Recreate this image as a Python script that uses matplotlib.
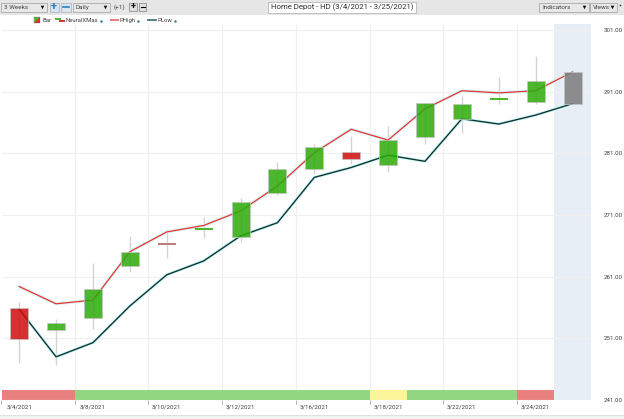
import matplotlib
matplotlib.use("Agg")
import matplotlib.pyplot as plt
import matplotlib.patheffects as pe
from matplotlib.patches import Rectangle

plt.rcParams['font.family'] = ['Roboto', 'DejaVu Sans']

# candles 3/4/2021 - 3/25/2021
dates = ['3/4/2021', '3/5/2021', '3/8/2021', '3/9/2021', '3/10/2021', '3/11/2021', '3/12/2021', '3/15/2021',
         '3/16/2021', '3/17/2021', '3/18/2021', '3/19/2021', '3/22/2021', '3/23/2021', '3/24/2021', '3/25/2021']
opens = [255.97, 252.3, 254.25, 262.73, 266.5, 268.55, 267.4, 274.5, 278.5, 281.2, 279.1, 283.65, 286.5, 289.65, 289.3, 289.05]
closes = [250.9, 253.5, 258.95, 264.95, 266.2, 268.85, 273.1, 278.5, 282.0, 280.0, 283.1, 289.1, 288.95, 290.0, 292.8, 294.2]
highs = [256.9, 254.1, 263.2, 267.6, 268.7, 270.7, 273.7, 279.6, 282.5, 283.8, 285.4, 289.1, 290.35, 293.4, 296.8, 294.2]
lows = [247.05, 246.7, 252.5, 261.8, 264.1, 267.2, 266.7, 274.3, 277.65, 279.3, 277.9, 282.5, 284.25, 289.0, 289.0, 289.05]
candle_kind = ['down', 'up', 'up', 'up', 'doji', 'up', 'up', 'up', 'up', 'down', 'up', 'up', 'up', 'up', 'up', 'open']

phigh = [259.4, 256.6, 257.2, 265.05, 268.25, 269.3, 271.65, 275.7, 281.1, 284.9, 283.15, 288.2, 291.15, 290.8, 291.15, 294.2]
plow = [255.7, 248.0, 250.3, 256.25, 261.3, 263.55, 267.6, 269.75, 277.1, 278.7, 280.7, 279.7, 286.6, 285.75, 287.2, 289.05]

# NeuralXMax strip along the bottom
strip_start = [0, 2, 10, 11, 14]
strip_len = [2, 8, 1, 3, 1]
strip_kind = ['red', 'green', 'yellow', 'green', 'red']

yticks = [241, 251, 261, 271, 281, 291, 301]
xtick_pos = [0, 2, 4, 6, 8, 10, 12, 14]
grid_x = [-0.5, 1.5, 3.5, 5.5, 7.5, 9.5, 11.5, 13.5]

# bodies get alpha so the lines show through, colours are darkened to suit
kind_color = {'up': '#2dab09', 'down': '#d00c0b', 'doji': '#a86060', 'open': '#7b7b7b'}
thin_color = {'up': '#4cb82e', 'doji': '#b98080'}
strip_color = {'red': '#e98080', 'green': '#93d681', 'yellow': '#fdf59a'}
tcol = '#404040'

fig = plt.figure(figsize=(6.24, 4.19), dpi=100, facecolor='white')
W, H = 624.0, 419.0

# main plot area in pixels: x 1.5-591, y 24-400
ax = fig.add_axes([1.5 / W, (H - 400) / H, (591 - 1.5) / W, (400 - 24) / H])
ax.set_xlim(-0.48, 15.5)
ax.set_ylim(241, 301.97)
for s in ax.spines.values():
    s.set_visible(False)
ax.patch.set_alpha(0)

ax.axvspan(14.5, 15.5, color='#e8eef6', zorder=0, lw=0)
ax.axvline(15.5, color='#d5e2ee', lw=0.8, zorder=1)
ax.vlines(grid_x, 241, 301.97, color='#f0f0f0', lw=0.9, zorder=1)
ax.hlines(yticks[1:], -0.48, 15.5, color='#f0f0f0', lw=0.9, zorder=1)

# lines go under the candles, glow around them
glow = [pe.withStroke(linewidth=2.4, foreground='#d0f8f8')]
ax.plot(range(16), phigh, color='#f03030', lw=0.9, zorder=3, path_effects=glow)
ax.plot(range(16), plow, color='#0f3333', lw=1.0, zorder=3, path_effects=glow)

for i in range(16):
    k = candle_kind[i]
    if k != 'open':
        ax.vlines(i, lows[i], highs[i], color='#d4d4d4', lw=1.0, zorder=2)
    bot = min(opens[i], closes[i])
    hgt = abs(closes[i] - opens[i])
    # thin bodies lose their colour under the grey edge
    if hgt < 0.6:
        ax.bar(i, hgt, bottom=bot, width=0.49, color=thin_color[k], lw=0, zorder=4)
    else:
        ax.bar(i, hgt, bottom=bot, width=0.49, color=kind_color[k], alpha=0.85,
               edgecolor='#c4c4c4', linewidth=0.6, zorder=4)

for st, ln, k in zip(strip_start, strip_len, strip_kind):
    left = st - 0.5
    if st == 0:
        left = -0.48
    ax.bar(left, 1.6, width=ln if st > 0 else ln - 0.02, bottom=241, align='edge', color=strip_color[k], lw=0, zorder=5)

ax.set_yticks(yticks)
ax.set_yticklabels(['%.2f' % v for v in yticks])
ax.yaxis.tick_right()
ax.set_xticks(xtick_pos)
ax.set_xticklabels([dates[i] for i in xtick_pos])
ax.tick_params(axis='both', length=0, labelsize=4.4, labelcolor=tcol)
ax.tick_params(axis='x', pad=3)
ax.tick_params(axis='y', pad=9)
ax.vlines(grid_x, 240.3, 241, color='#b0b0b0', lw=0.7, clip_on=False, zorder=5)
ax.hlines(241, -0.48, 15.5, color='#d5e2ee', lw=0.8, zorder=6)

# window chrome, drawn in pixel coords
ov = fig.add_axes([0, 0, 1, 1])
ov.set_xlim(0, W)
ov.set_ylim(H, 0)
ov.axis('off')
ov.patch.set_alpha(0)


def box(x0, y0, x1, y1, fc='#f0f0f0', ec='#a8a8a8', lw=0.6):
    ov.add_patch(Rectangle((x0, y0), x1 - x0, y1 - y0, facecolor=fc, edgecolor=ec, linewidth=lw))


box(0, 0, W, 15, fc='#e6e6e6', ec='none', lw=0)
box(0, 415, W, 419, fc='#f4f4f4', ec='none', lw=0)
ov.plot([0, W], [415, 415], color='#dddddd', lw=0.6)

# combos
for x0, x1, label in [(1, 47, '3 Weeks'), (73, 110, 'Daily'), (539, 589, 'Indicators'), (590, 617, 'Views')]:
    box(x0, 3, x1, 12, fc='#e8e8e8')
    ov.text(x0 + 3, 7.5, label, fontsize=4.6, color=tcol, va='center')
    ov.plot([x1 - 5], [7.5], marker='v', ms=2.6, color='#111111', mec='none')

# zoom buttons
box(49.5, 3, 59, 12, fc='#d8e4f0', ec='#b0b8c0')
box(61, 3, 71, 12, fc='#d8e4f0', ec='#b0b8c0')
ov.text(54.2, 7.3, '+', fontsize=8, color='#2a7fc0', ha='center', va='center', weight='bold')
ov.plot([63, 69], [7.5, 7.5], color='#2a7fc0', lw=1.2)
ov.text(114, 7.5, '(+1)', fontsize=4.6, color=tcol, va='center')
box(129, 3, 137, 11, fc='#e0e0e0', ec='#909090')
box(139, 3, 146, 11, fc='#e0e0e0', ec='#909090')
ov.text(133, 6.8, '+', fontsize=6.5, color='black', ha='center', va='center', weight='bold')
ov.plot([140.5, 144.5], [7, 7], color='black', lw=0.8)

# title box
box(268, 2, 416, 13, fc='white', ec='#b8b8b8')
ov.text(342, 7.6, 'Home Depot - HD (3/4/2021 - 3/25/2021)', fontsize=5.6, color='#303030', ha='center', va='center')
ov.plot([619.5], [5.5], marker='o', ms=1.2, color='#333333', mec='none')

# legend row
box(34, 17.5, 40, 23.5, fc='#4cb82e', ec='#888888', lw=0.3)
ov.fill([34, 40, 40], [23.5, 23.5, 17.5], color='#d7302f', lw=0)
ov.text(42.5, 20.5, 'Bar', fontsize=4.3, color=tcol, va='center')
ov.plot([56, 60], [19, 19], color='#4cb82e', lw=1.4)
ov.plot([60, 64], [21.5, 21.5], color='#d7302f', lw=1.4)
ov.text(66, 20.5, 'NeuralXMax', fontsize=4.3, color=tcol, va='center')
ov.plot([111, 118], [20, 20], color='#f07878', lw=1.4)
ov.text(120, 20.5, 'PHigh', fontsize=4.3, color=tcol, va='center')
ov.plot([148, 156], [20, 20], color='#5a7f80', lw=1.4)
ov.text(158, 20.5, 'PLow', fontsize=4.3, color=tcol, va='center')
ov.plot([100.5, 138, 175], [21.5, 21.5, 21.5], 'o', ms=1.8, color='#2f7f9f', mec='none')

fig.savefig('out.png', dpi=100)
